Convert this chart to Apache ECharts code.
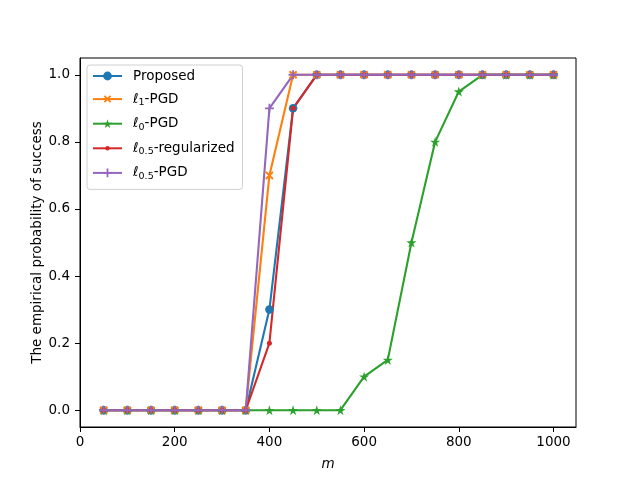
<!DOCTYPE html>
<html>
<head>
<meta charset="utf-8">
<script src="https://cdn.jsdelivr.net/npm/echarts@6/dist/echarts.min.js"></script>
<style>
  html, body { margin: 0; padding: 0; background: #fff; }
  #chart { width: 640px; height: 480px; }
</style>
</head>
<body>
<div id="chart"></div>
<script>
const mValues = [50, 100, 150, 200, 250, 300, 350, 400, 450, 500, 550, 600, 650, 700, 750, 800, 850, 900, 950, 1000];
const proposed = [0, 0, 0, 0, 0, 0, 0, 0.3, 0.9, 1, 1, 1, 1, 1, 1, 1, 1, 1, 1, 1];
const l1Pgd = [0, 0, 0, 0, 0, 0, 0, 0.7, 1, 1, 1, 1, 1, 1, 1, 1, 1, 1, 1, 1];
const l0Pgd = [0, 0, 0, 0, 0, 0, 0, 0, 0, 0, 0, 0.1, 0.15, 0.5, 0.8, 0.95, 1, 1, 1, 1];
const l05Reg = [0, 0, 0, 0, 0, 0, 0, 0.2, 0.9, 1, 1, 1, 1, 1, 1, 1, 1, 1, 1, 1];
const l05Pgd = [0, 0, 0, 0, 0, 0, 0, 0.9, 1, 1, 1, 1, 1, 1, 1, 1, 1, 1, 1, 1];
const xTicks = [0, 200, 400, 600, 800, 1000];
const yTicks = [0, 0.2, 0.4, 0.6, 0.8, 1.0];

const font = 'DejaVu Sans';
const plusPath = 'path://M4,0h2v4h4v2h-4v4h-2v-4h-4v-2h4z';
const starPath = 'path://M50,0L61.23,34.55L97.55,34.55L68.17,55.9L79.39,90.45L50,69.1L20.61,90.45L31.83,55.9L2.45,34.55L38.77,34.55Z';
// small dot inside a padded box so the legend icon stays small too
const dotPath = 'path://M0,0M10,10M2.5,5a2.5,2.5 0 1,0 5,0a2.5,2.5 0 1,0 -5,0Z';

const pairs = arr => mValues.map((m, i) => [m, arr[i]]);

const lineSeries = {
  type: 'line',
  lineStyle: { width: 2.1 },
  showAllSymbol: true,
  animation: false,
  emphasis: { disabled: true }
};

const legendNames = {
  'Proposed': 'Proposed',
  'l1': '{l|ℓ}{sub|1}-PGD',
  'l0': '{l|ℓ}{sub|0}-PGD',
  'l05r': '{l|ℓ}{sub|0.5}-regularized',
  'l05p': '{l|ℓ}{sub|0.5}-PGD'
};

const axisCommon = {
  axisLine: { onZero: false, lineStyle: { color: '#000', width: 1 } },
  axisTick: { inside: false, length: 5, lineStyle: { color: '#000', width: 1 } },
  splitLine: { show: false },
  axisLabel: { color: '#000', fontFamily: font, fontSize: 13.5, margin: 8 }
};

const chart = echarts.init(document.getElementById('chart'), null, { renderer: 'canvas' });
chart.setOption({
  backgroundColor: '#fff',
  color: ['#1f77b4', '#ff7f0e', '#2ca02c', '#d62728', '#9467bd'],
  grid: {
    left: 80, right: 64, top: 58, bottom: 53,
    show: true, borderColor: '#000', borderWidth: 1, backgroundColor: 'transparent'
  },
  legend: {
    orient: 'vertical',
    left: 87, top: 65,
    padding: [4, 8, 8, 5],
    itemWidth: 29, itemHeight: 11, itemGap: 9.1,
    backgroundColor: 'rgba(255,255,255,0.8)',
    borderColor: '#d0d0d0', borderWidth: 1, borderRadius: 3,
    formatter: name => legendNames[name],
    textStyle: {
      fontFamily: font, fontSize: 13.5, color: '#000', padding: [0, 0, 0, 6],
      rich: {
        l: { fontFamily: font, fontSize: 13.5, fontStyle: 'italic' },
        sub: { fontFamily: font, fontSize: 9.5, padding: [7, 0, 0, 0] }
      }
    },
    data: ['Proposed', 'l1', 'l0', 'l05r', 'l05p']
  },
  xAxis: {
    type: 'value',
    min: 0, max: 1047.5,
    name: 'm',
    nameLocation: 'middle',
    nameGap: 30,
    nameMoveOverlap: false,
    nameTextStyle: { fontFamily: font, fontSize: 13.5, fontStyle: 'italic', color: '#000' },
    ...axisCommon,
    axisTick: { ...axisCommon.axisTick, customValues: xTicks },
    axisLabel: { ...axisCommon.axisLabel, customValues: xTicks, formatter: v => String(v) }
  },
  yAxis: {
    type: 'value',
    min: -0.05, max: 1.05,
    name: 'The empirical probability of success',
    nameLocation: 'middle',
    nameGap: 36,
    nameMoveOverlap: false,
    nameTextStyle: { fontFamily: font, fontSize: 13.5, color: '#000' },
    ...axisCommon,
    axisTick: { ...axisCommon.axisTick, customValues: yTicks },
    axisLabel: { ...axisCommon.axisLabel, margin: 10, customValues: yTicks, formatter: v => v.toFixed(1) }
  },
  series: [
    { ...lineSeries, name: 'Proposed', data: pairs(proposed), symbol: 'circle', symbolSize: 8.5 },
    { ...lineSeries, name: 'l1', data: pairs(l1Pgd), symbol: plusPath, symbolRotate: 45, symbolSize: 10 },
    { ...lineSeries, name: 'l0', data: pairs(l0Pgd), symbol: starPath, symbolSize: 10 },
    { ...lineSeries, name: 'l05r', data: pairs(l05Reg), symbol: dotPath, symbolSize: 10 },
    { ...lineSeries, name: 'l05p', data: pairs(l05Pgd), symbol: plusPath, symbolSize: 9 }
  ]
});
</script>
</body>
</html>
